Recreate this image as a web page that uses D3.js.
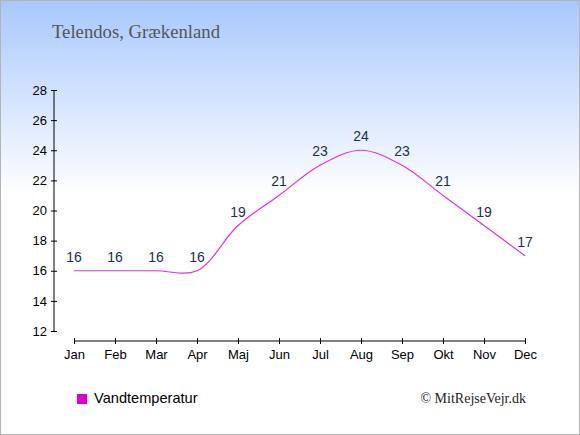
<!DOCTYPE html>
<html>
<head>
<meta charset="utf-8">
<script src="https://cdn.jsdelivr.net/npm/d3@7"></script>
<style>
  body { margin: 0; }
  svg { display: block; }
</style>
</head>
<body>
<svg width="580" height="435"></svg>
<script>
"use strict";

// Data.

var months = ["Jan", "Feb", "Mar", "Apr", "Maj", "Jun", "Jul", "Aug", "Sep", "Okt", "Nov", "Dec"];
var waterTemp = [16, 16, 16, 16, 19, 21, 23, 24, 23, 21, 19, 17];
var yTicks = [12, 14, 16, 18, 20, 22, 24, 26, 28];

var title = "Telendos, Grækenland";
var legendLabel = "Vandtemperatur";
var credit = "© MitRejseVejr.dk";

// SVG.

var svg = d3.select("svg");
var width = +svg.attr("width");
var height = +svg.attr("height");

var LineColor = "#e030e0";
var LabelColor = "#1c2f4f";
var AxisColor = "#000";

// Background.

var defs = svg.append("defs");
var grad = defs.append("linearGradient")
    .attr("id", "bg")
    .attr("x1", 0).attr("y1", 0)
    .attr("x2", 0).attr("y2", 1);
grad.append("stop").attr("offset", "0%").attr("stop-color", "#a8c8fd");
grad.append("stop").attr("offset", "45%").attr("stop-color", "#ffffff");
grad.append("stop").attr("offset", "100%").attr("stop-color", "#ffffff");

svg.append("rect")
    .attr("x", 0.5).attr("y", 0.5)
    .attr("width", width - 1).attr("height", height - 1)
    .attr("fill", "url(#bg)")
    .attr("stroke", "#b4b4b4");

// Scales.

var x = d3.scalePoint()
    .domain(months)
    .range([74, 525]);

var y = d3.scaleLinear()
    .domain([12, 28])
    .range([331, 90]);

// Axes.

var yAxis = svg.append("g")
    .attr("transform", "translate(54,0)")
    .call(d3.axisLeft(y).tickValues(yTicks).tickSize(3).tickPadding(4));

var xAxis = svg.append("g")
    .attr("transform", "translate(0,341)")
    .call(d3.axisBottom(x).tickSize(3).tickPadding(6));

[xAxis, yAxis].forEach(function(g){
    g.select(".domain").attr("stroke", AxisColor);
    g.selectAll(".tick line").attr("stroke", AxisColor);
    g.selectAll("text")
        .attr("fill", "#000")
        .style("font-family", "'Liberation Sans', Arial, sans-serif")
        .style("font-size", "13px");
});

// Ticks poke out on both sides of the axis lines.
yAxis.selectAll(".tick line").attr("x1", 3).attr("x2", -3);
xAxis.selectAll(".tick line").attr("y1", -3).attr("y2", 3);
yAxis.select(".domain").attr("d", "M0," + y(28) + "V" + y(12));
xAxis.select(".domain").attr("d", "M" + x("Jan") + ",0H" + x("Dec"));

// Line.

var line = d3.line()
    .x(function(d, i){ return x(months[i]); })
    .y(function(d){ return y(d); })
    .curve(d3.curveCatmullRom.alpha(0.5));

svg.append("path")
    .datum(waterTemp)
    .attr("d", line)
    .attr("fill", "none")
    .attr("stroke", LineColor)
    .attr("stroke-width", 1.2);

// Value labels.

svg.selectAll("text.value")
    .data(waterTemp)
    .enter()
    .append("text")
        .attr("class", "value")
        .attr("x", function(d, i){ return x(months[i]); })
        .attr("y", function(d){ return y(d) - 9; })
        .attr("text-anchor", "middle")
        .attr("fill", LabelColor)
        .style("font-family", "'Liberation Sans', Arial, sans-serif")
        .style("font-size", "14px")
        .text(function(d){ return d; });

// Title.

svg.append("text")
    .attr("x", 52)
    .attr("y", 38)
    .attr("fill", "#555")
    .attr("textLength", 168)
    .attr("lengthAdjust", "spacingAndGlyphs")
    .style("font-family", "'Liberation Serif', 'Times New Roman', serif")
    .style("font-size", "18px")
    .text(title);

// Legend.

svg.append("rect")
    .attr("x", 77).attr("y", 394)
    .attr("width", 10).attr("height", 10)
    .attr("fill", "#dd00cc");

svg.append("text")
    .attr("x", 94)
    .attr("y", 403)
    .attr("fill", "#000")
    .style("font-family", "'Liberation Sans', Arial, sans-serif")
    .style("font-size", "14.6px")
    .text(legendLabel);

svg.append("text")
    .attr("x", 526)
    .attr("y", 403)
    .attr("text-anchor", "end")
    .attr("fill", "#222")
    .style("font-family", "'Liberation Serif', 'Times New Roman', serif")
    .style("font-size", "14px")
    .text(credit);
</script>
</body>
</html>
